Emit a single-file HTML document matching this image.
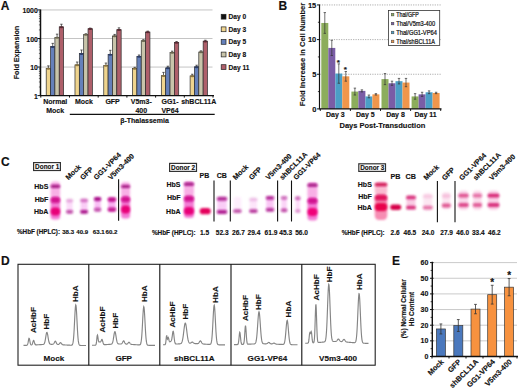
<!DOCTYPE html>
<html><head><meta charset="utf-8"><style>
html,body{margin:0;padding:0;background:#fff;}
svg{display:block;}
text{font-family:"Liberation Sans",sans-serif;}
</style></head><body>
<svg width="520" height="390" viewBox="0 0 520 390">
<defs>
<filter id="b1" x="-50%" y="-50%" width="200%" height="200%"><feGaussianBlur stdDeviation="0.9"/></filter><filter id="b2" x="-50%" y="-50%" width="200%" height="200%"><feGaussianBlur stdDeviation="1.3"/></filter>
</defs>
<rect width="520" height="390" fill="#fff"/>
<text x="0.80" y="9.60" font-size="12" font-weight="bold" text-anchor="start" fill="#111" stroke="#111" stroke-width="0.14" >A</text>
<line x1="40.50" y1="67.05" x2="212.50" y2="67.05" stroke="#bdbdbd" stroke-width="0.9" />
<line x1="40.50" y1="38.50" x2="212.50" y2="38.50" stroke="#bdbdbd" stroke-width="0.9" />
<line x1="40.50" y1="9.95" x2="212.50" y2="9.95" stroke="#bdbdbd" stroke-width="0.9" />
<line x1="38.90" y1="87.01" x2="40.50" y2="87.01" stroke="#222" stroke-width="0.6" />
<line x1="38.90" y1="81.98" x2="40.50" y2="81.98" stroke="#222" stroke-width="0.6" />
<line x1="38.90" y1="78.41" x2="40.50" y2="78.41" stroke="#222" stroke-width="0.6" />
<line x1="38.90" y1="75.64" x2="40.50" y2="75.64" stroke="#222" stroke-width="0.6" />
<line x1="38.90" y1="73.38" x2="40.50" y2="73.38" stroke="#222" stroke-width="0.6" />
<line x1="38.90" y1="71.47" x2="40.50" y2="71.47" stroke="#222" stroke-width="0.6" />
<line x1="38.90" y1="69.82" x2="40.50" y2="69.82" stroke="#222" stroke-width="0.6" />
<line x1="38.90" y1="68.36" x2="40.50" y2="68.36" stroke="#222" stroke-width="0.6" />
<line x1="38.90" y1="58.46" x2="40.50" y2="58.46" stroke="#222" stroke-width="0.6" />
<line x1="38.90" y1="53.43" x2="40.50" y2="53.43" stroke="#222" stroke-width="0.6" />
<line x1="38.90" y1="49.86" x2="40.50" y2="49.86" stroke="#222" stroke-width="0.6" />
<line x1="38.90" y1="47.09" x2="40.50" y2="47.09" stroke="#222" stroke-width="0.6" />
<line x1="38.90" y1="44.83" x2="40.50" y2="44.83" stroke="#222" stroke-width="0.6" />
<line x1="38.90" y1="42.92" x2="40.50" y2="42.92" stroke="#222" stroke-width="0.6" />
<line x1="38.90" y1="41.27" x2="40.50" y2="41.27" stroke="#222" stroke-width="0.6" />
<line x1="38.90" y1="39.81" x2="40.50" y2="39.81" stroke="#222" stroke-width="0.6" />
<line x1="38.90" y1="29.91" x2="40.50" y2="29.91" stroke="#222" stroke-width="0.6" />
<line x1="38.90" y1="24.88" x2="40.50" y2="24.88" stroke="#222" stroke-width="0.6" />
<line x1="38.90" y1="21.31" x2="40.50" y2="21.31" stroke="#222" stroke-width="0.6" />
<line x1="38.90" y1="18.54" x2="40.50" y2="18.54" stroke="#222" stroke-width="0.6" />
<line x1="38.90" y1="16.28" x2="40.50" y2="16.28" stroke="#222" stroke-width="0.6" />
<line x1="38.90" y1="14.37" x2="40.50" y2="14.37" stroke="#222" stroke-width="0.6" />
<line x1="38.90" y1="12.72" x2="40.50" y2="12.72" stroke="#222" stroke-width="0.6" />
<line x1="38.90" y1="11.26" x2="40.50" y2="11.26" stroke="#222" stroke-width="0.6" />
<line x1="37.50" y1="95.60" x2="40.50" y2="95.60" stroke="#111" stroke-width="1" />
<text x="37.80" y="98.60" font-size="6.9" font-weight="bold" text-anchor="end" fill="#111" stroke="#111" stroke-width="0.14" >1</text>
<line x1="37.50" y1="67.05" x2="40.50" y2="67.05" stroke="#111" stroke-width="1" />
<text x="37.80" y="70.05" font-size="6.9" font-weight="bold" text-anchor="end" fill="#111" stroke="#111" stroke-width="0.14" >10</text>
<line x1="37.50" y1="38.50" x2="40.50" y2="38.50" stroke="#111" stroke-width="1" />
<text x="37.80" y="41.50" font-size="6.9" font-weight="bold" text-anchor="end" fill="#111" stroke="#111" stroke-width="0.14" >100</text>
<line x1="37.50" y1="9.95" x2="40.50" y2="9.95" stroke="#111" stroke-width="1" />
<text x="37.80" y="12.95" font-size="6.9" font-weight="bold" text-anchor="end" fill="#111" stroke="#111" stroke-width="0.14" >1000</text>
<text x="19.50" y="52.60" font-size="7.2" font-weight="bold" text-anchor="middle" fill="#111" stroke="#111" stroke-width="0.14" transform="rotate(-90 19.5 52.6)" >Fold Expansion</text>
<line x1="48.38" y1="65.87" x2="48.38" y2="68.46" stroke="#222" stroke-width="0.7" />
<line x1="47.17" y1="65.87" x2="49.58" y2="65.87" stroke="#222" stroke-width="0.7" />
<rect x="46.20" y="68.46" width="4.35" height="27.14" fill="#efd48e" stroke="#2a2a2a" stroke-width="0.7" />
<ellipse cx="48.38" cy="68.76" rx="2.17" ry="1.0" fill="#8a7440"/>
<line x1="52.73" y1="43.36" x2="52.73" y2="46.65" stroke="#222" stroke-width="0.7" />
<line x1="51.52" y1="43.36" x2="53.93" y2="43.36" stroke="#222" stroke-width="0.7" />
<rect x="50.55" y="46.65" width="4.35" height="48.95" fill="#6580ba" stroke="#2a2a2a" stroke-width="0.7" />
<ellipse cx="52.73" cy="46.95" rx="2.17" ry="1.0" fill="#2c3c66"/>
<line x1="57.08" y1="34.15" x2="57.08" y2="37.38" stroke="#222" stroke-width="0.7" />
<line x1="55.88" y1="34.15" x2="58.28" y2="34.15" stroke="#222" stroke-width="0.7" />
<rect x="54.90" y="37.38" width="4.35" height="58.22" fill="#c8c4aa" stroke="#2a2a2a" stroke-width="0.7" />
<ellipse cx="57.08" cy="37.68" rx="2.17" ry="1.0" fill="#6a6650"/>
<line x1="61.42" y1="24.23" x2="61.42" y2="26.83" stroke="#222" stroke-width="0.7" />
<line x1="60.22" y1="24.23" x2="62.62" y2="24.23" stroke="#222" stroke-width="0.7" />
<rect x="59.25" y="26.83" width="4.35" height="68.77" fill="#ae5f6a" stroke="#2a2a2a" stroke-width="0.7" />
<ellipse cx="61.42" cy="27.13" rx="2.17" ry="1.0" fill="#5a2a34"/>
<line x1="77.16" y1="62.02" x2="77.16" y2="64.89" stroke="#222" stroke-width="0.7" />
<line x1="75.95" y1="62.02" x2="78.36" y2="62.02" stroke="#222" stroke-width="0.7" />
<rect x="74.98" y="64.89" width="4.35" height="30.71" fill="#efd48e" stroke="#2a2a2a" stroke-width="0.7" />
<ellipse cx="77.16" cy="65.19" rx="2.17" ry="1.0" fill="#8a7440"/>
<line x1="81.50" y1="49.99" x2="81.50" y2="53.61" stroke="#222" stroke-width="0.7" />
<line x1="80.30" y1="49.99" x2="82.70" y2="49.99" stroke="#222" stroke-width="0.7" />
<rect x="79.33" y="53.61" width="4.35" height="41.99" fill="#6580ba" stroke="#2a2a2a" stroke-width="0.7" />
<ellipse cx="81.50" cy="53.91" rx="2.17" ry="1.0" fill="#2c3c66"/>
<line x1="85.86" y1="33.81" x2="85.86" y2="34.57" stroke="#222" stroke-width="0.7" />
<line x1="84.66" y1="33.81" x2="87.06" y2="33.81" stroke="#222" stroke-width="0.7" />
<rect x="83.68" y="34.57" width="4.35" height="61.03" fill="#c8c4aa" stroke="#2a2a2a" stroke-width="0.7" />
<ellipse cx="85.86" cy="34.87" rx="2.17" ry="1.0" fill="#6a6650"/>
<line x1="90.20" y1="28.07" x2="90.20" y2="28.73" stroke="#222" stroke-width="0.7" />
<line x1="89.00" y1="28.07" x2="91.41" y2="28.07" stroke="#222" stroke-width="0.7" />
<rect x="88.03" y="28.73" width="4.35" height="66.87" fill="#ae5f6a" stroke="#2a2a2a" stroke-width="0.7" />
<ellipse cx="90.20" cy="29.03" rx="2.17" ry="1.0" fill="#5a2a34"/>
<line x1="105.94" y1="63.06" x2="105.94" y2="65.40" stroke="#222" stroke-width="0.7" />
<line x1="104.73" y1="63.06" x2="107.14" y2="63.06" stroke="#222" stroke-width="0.7" />
<rect x="103.76" y="65.40" width="4.35" height="30.20" fill="#efd48e" stroke="#2a2a2a" stroke-width="0.7" />
<ellipse cx="105.94" cy="65.70" rx="2.17" ry="1.0" fill="#8a7440"/>
<line x1="110.28" y1="50.30" x2="110.28" y2="54.40" stroke="#222" stroke-width="0.7" />
<line x1="109.08" y1="50.30" x2="111.48" y2="50.30" stroke="#222" stroke-width="0.7" />
<rect x="108.11" y="54.40" width="4.35" height="41.20" fill="#6580ba" stroke="#2a2a2a" stroke-width="0.7" />
<ellipse cx="110.28" cy="54.70" rx="2.17" ry="1.0" fill="#2c3c66"/>
<line x1="114.64" y1="34.42" x2="114.64" y2="36.04" stroke="#222" stroke-width="0.7" />
<line x1="113.44" y1="34.42" x2="115.84" y2="34.42" stroke="#222" stroke-width="0.7" />
<rect x="112.46" y="36.04" width="4.35" height="59.56" fill="#c8c4aa" stroke="#2a2a2a" stroke-width="0.7" />
<ellipse cx="114.64" cy="36.34" rx="2.17" ry="1.0" fill="#6a6650"/>
<line x1="118.98" y1="27.85" x2="118.98" y2="29.69" stroke="#222" stroke-width="0.7" />
<line x1="117.78" y1="27.85" x2="120.19" y2="27.85" stroke="#222" stroke-width="0.7" />
<rect x="116.81" y="29.69" width="4.35" height="65.91" fill="#ae5f6a" stroke="#2a2a2a" stroke-width="0.7" />
<ellipse cx="118.98" cy="29.99" rx="2.17" ry="1.0" fill="#5a2a34"/>
<line x1="134.72" y1="67.30" x2="134.72" y2="68.46" stroke="#222" stroke-width="0.7" />
<line x1="133.52" y1="67.30" x2="135.92" y2="67.30" stroke="#222" stroke-width="0.7" />
<rect x="132.54" y="68.46" width="4.35" height="27.14" fill="#efd48e" stroke="#2a2a2a" stroke-width="0.7" />
<ellipse cx="134.72" cy="68.76" rx="2.17" ry="1.0" fill="#8a7440"/>
<line x1="139.07" y1="55.01" x2="139.07" y2="56.50" stroke="#222" stroke-width="0.7" />
<line x1="137.87" y1="55.01" x2="140.27" y2="55.01" stroke="#222" stroke-width="0.7" />
<rect x="136.89" y="56.50" width="4.35" height="39.10" fill="#6580ba" stroke="#2a2a2a" stroke-width="0.7" />
<ellipse cx="139.07" cy="56.80" rx="2.17" ry="1.0" fill="#2c3c66"/>
<line x1="143.42" y1="39.67" x2="143.42" y2="40.73" stroke="#222" stroke-width="0.7" />
<line x1="142.22" y1="39.67" x2="144.62" y2="39.67" stroke="#222" stroke-width="0.7" />
<rect x="141.24" y="40.73" width="4.35" height="54.87" fill="#c8c4aa" stroke="#2a2a2a" stroke-width="0.7" />
<ellipse cx="143.42" cy="41.03" rx="2.17" ry="1.0" fill="#6a6650"/>
<line x1="147.77" y1="31.14" x2="147.77" y2="32.07" stroke="#222" stroke-width="0.7" />
<line x1="146.57" y1="31.14" x2="148.97" y2="31.14" stroke="#222" stroke-width="0.7" />
<rect x="145.59" y="32.07" width="4.35" height="63.53" fill="#ae5f6a" stroke="#2a2a2a" stroke-width="0.7" />
<ellipse cx="147.77" cy="32.37" rx="2.17" ry="1.0" fill="#5a2a34"/>
<line x1="163.50" y1="72.39" x2="163.50" y2="75.66" stroke="#222" stroke-width="0.7" />
<line x1="162.30" y1="72.39" x2="164.69" y2="72.39" stroke="#222" stroke-width="0.7" />
<rect x="161.32" y="75.66" width="4.35" height="19.94" fill="#efd48e" stroke="#2a2a2a" stroke-width="0.7" />
<ellipse cx="163.50" cy="75.96" rx="2.17" ry="1.0" fill="#8a7440"/>
<line x1="167.84" y1="66.21" x2="167.84" y2="67.93" stroke="#222" stroke-width="0.7" />
<line x1="166.65" y1="66.21" x2="169.04" y2="66.21" stroke="#222" stroke-width="0.7" />
<rect x="165.67" y="67.93" width="4.35" height="27.67" fill="#6580ba" stroke="#2a2a2a" stroke-width="0.7" />
<ellipse cx="167.84" cy="68.23" rx="2.17" ry="1.0" fill="#2c3c66"/>
<line x1="172.19" y1="51.17" x2="172.19" y2="52.38" stroke="#222" stroke-width="0.7" />
<line x1="171.00" y1="51.17" x2="173.39" y2="51.17" stroke="#222" stroke-width="0.7" />
<rect x="170.02" y="52.38" width="4.35" height="43.22" fill="#c8c4aa" stroke="#2a2a2a" stroke-width="0.7" />
<ellipse cx="172.19" cy="52.68" rx="2.17" ry="1.0" fill="#6a6650"/>
<line x1="176.55" y1="41.58" x2="176.55" y2="42.57" stroke="#222" stroke-width="0.7" />
<line x1="175.35" y1="41.58" x2="177.75" y2="41.58" stroke="#222" stroke-width="0.7" />
<rect x="174.37" y="42.57" width="4.35" height="53.03" fill="#ae5f6a" stroke="#2a2a2a" stroke-width="0.7" />
<ellipse cx="176.55" cy="42.87" rx="2.17" ry="1.0" fill="#5a2a34"/>
<line x1="192.28" y1="74.24" x2="192.28" y2="75.91" stroke="#222" stroke-width="0.7" />
<line x1="191.08" y1="74.24" x2="193.48" y2="74.24" stroke="#222" stroke-width="0.7" />
<rect x="190.10" y="75.91" width="4.35" height="19.69" fill="#efd48e" stroke="#2a2a2a" stroke-width="0.7" />
<ellipse cx="192.28" cy="76.21" rx="2.17" ry="1.0" fill="#8a7440"/>
<line x1="196.63" y1="65.21" x2="196.63" y2="66.83" stroke="#222" stroke-width="0.7" />
<line x1="195.43" y1="65.21" x2="197.83" y2="65.21" stroke="#222" stroke-width="0.7" />
<rect x="194.45" y="66.83" width="4.35" height="28.77" fill="#6580ba" stroke="#2a2a2a" stroke-width="0.7" />
<ellipse cx="196.63" cy="67.13" rx="2.17" ry="1.0" fill="#2c3c66"/>
<line x1="200.98" y1="50.83" x2="200.98" y2="52.02" stroke="#222" stroke-width="0.7" />
<line x1="199.78" y1="50.83" x2="202.18" y2="50.83" stroke="#222" stroke-width="0.7" />
<rect x="198.80" y="52.02" width="4.35" height="43.58" fill="#c8c4aa" stroke="#2a2a2a" stroke-width="0.7" />
<ellipse cx="200.98" cy="52.32" rx="2.17" ry="1.0" fill="#6a6650"/>
<line x1="205.33" y1="40.23" x2="205.33" y2="41.17" stroke="#222" stroke-width="0.7" />
<line x1="204.13" y1="40.23" x2="206.53" y2="40.23" stroke="#222" stroke-width="0.7" />
<rect x="203.15" y="41.17" width="4.35" height="54.43" fill="#ae5f6a" stroke="#2a2a2a" stroke-width="0.7" />
<ellipse cx="205.33" cy="41.47" rx="2.17" ry="1.0" fill="#5a2a34"/>
<line x1="40.50" y1="9.50" x2="40.50" y2="95.60" stroke="#111" stroke-width="1.5" />
<line x1="39.90" y1="95.60" x2="214.00" y2="95.60" stroke="#111" stroke-width="1.3" />
<line x1="40.80" y1="95.60" x2="40.80" y2="97.60" stroke="#111" stroke-width="1" />
<line x1="69.50" y1="95.60" x2="69.50" y2="97.60" stroke="#111" stroke-width="1" />
<line x1="98.20" y1="95.60" x2="98.20" y2="97.60" stroke="#111" stroke-width="1" />
<line x1="126.90" y1="95.60" x2="126.90" y2="97.60" stroke="#111" stroke-width="1" />
<line x1="155.60" y1="95.60" x2="155.60" y2="97.60" stroke="#111" stroke-width="1" />
<line x1="184.30" y1="95.60" x2="184.30" y2="97.60" stroke="#111" stroke-width="1" />
<line x1="213.00" y1="95.60" x2="213.00" y2="97.60" stroke="#111" stroke-width="1" />
<text x="55.20" y="104.00" font-size="7" font-weight="bold" text-anchor="middle" fill="#111" stroke="#111" stroke-width="0.14" >Normal</text>
<text x="55.20" y="112.80" font-size="7" font-weight="bold" text-anchor="middle" fill="#111" stroke="#111" stroke-width="0.14" >Mock</text>
<text x="83.90" y="104.00" font-size="7" font-weight="bold" text-anchor="middle" fill="#111" stroke="#111" stroke-width="0.14" >Mock</text>
<text x="112.60" y="104.00" font-size="7" font-weight="bold" text-anchor="middle" fill="#111" stroke="#111" stroke-width="0.14" >GFP</text>
<text x="141.30" y="104.00" font-size="7" font-weight="bold" text-anchor="middle" fill="#111" stroke="#111" stroke-width="0.14" >V5m3-</text>
<text x="141.30" y="112.80" font-size="7" font-weight="bold" text-anchor="middle" fill="#111" stroke="#111" stroke-width="0.14" >400</text>
<text x="170.00" y="104.00" font-size="7" font-weight="bold" text-anchor="middle" fill="#111" stroke="#111" stroke-width="0.14" >GG1-</text>
<text x="170.00" y="112.80" font-size="7" font-weight="bold" text-anchor="middle" fill="#111" stroke="#111" stroke-width="0.14" >VP64</text>
<text x="198.70" y="104.00" font-size="7" font-weight="bold" text-anchor="middle" fill="#111" stroke="#111" stroke-width="0.14" >shBCL11A</text>
<line x1="69.80" y1="114.40" x2="214.70" y2="114.40" stroke="#111" stroke-width="1.3" />
<text x="144.50" y="122.60" font-size="7" font-weight="bold" text-anchor="middle" fill="#111" stroke="#111" stroke-width="0.14" >β-Thalassemia</text>
<rect x="221.20" y="14.30" width="4.80" height="4.80" fill="#111" stroke="#222" stroke-width="0.7" />
<text x="228.60" y="19.20" font-size="6.6" font-weight="bold" text-anchor="start" fill="#111" stroke="#111" stroke-width="0.14" >Day 0</text>
<rect x="221.20" y="26.90" width="4.80" height="4.80" fill="#efd48e" stroke="#222" stroke-width="0.7" />
<text x="228.60" y="31.80" font-size="6.6" font-weight="bold" text-anchor="start" fill="#111" stroke="#111" stroke-width="0.14" >Day 3</text>
<rect x="221.20" y="39.50" width="4.80" height="4.80" fill="#6580ba" stroke="#222" stroke-width="0.7" />
<text x="228.60" y="44.40" font-size="6.6" font-weight="bold" text-anchor="start" fill="#111" stroke="#111" stroke-width="0.14" >Day 5</text>
<rect x="221.20" y="52.10" width="4.80" height="4.80" fill="#c8c4aa" stroke="#222" stroke-width="0.7" />
<text x="228.60" y="57.00" font-size="6.6" font-weight="bold" text-anchor="start" fill="#111" stroke="#111" stroke-width="0.14" >Day 8</text>
<rect x="221.20" y="64.70" width="4.80" height="4.80" fill="#ae5f6a" stroke="#222" stroke-width="0.7" />
<text x="228.60" y="69.60" font-size="6.6" font-weight="bold" text-anchor="start" fill="#111" stroke="#111" stroke-width="0.14" >Day 11</text>
<text x="278.60" y="9.60" font-size="12" font-weight="bold" text-anchor="start" fill="#111" stroke="#111" stroke-width="0.14" >B</text>
<line x1="319.50" y1="74.25" x2="441.00" y2="74.25" stroke="#999" stroke-width="0.8" stroke-dasharray="1.2 1.2"/>
<line x1="319.50" y1="39.60" x2="441.00" y2="39.60" stroke="#999" stroke-width="0.8" stroke-dasharray="1.2 1.2"/>
<line x1="319.50" y1="4.95" x2="441.00" y2="4.95" stroke="#999" stroke-width="0.8" stroke-dasharray="1.2 1.2"/>
<rect x="321.30" y="22.97" width="7.00" height="85.93" fill="#8cad5c" stroke="none" stroke-width="0" />
<line x1="324.80" y1="12.57" x2="324.80" y2="33.36" stroke="#333" stroke-width="0.7" />
<line x1="323.60" y1="12.57" x2="326.00" y2="12.57" stroke="#333" stroke-width="0.7" />
<line x1="323.60" y1="33.36" x2="326.00" y2="33.36" stroke="#333" stroke-width="0.7" />
<rect x="328.30" y="47.92" width="7.00" height="60.98" fill="#7a5da6" stroke="none" stroke-width="0" />
<line x1="331.80" y1="40.29" x2="331.80" y2="55.54" stroke="#333" stroke-width="0.7" />
<line x1="330.60" y1="40.29" x2="333.00" y2="40.29" stroke="#333" stroke-width="0.7" />
<line x1="330.60" y1="55.54" x2="333.00" y2="55.54" stroke="#333" stroke-width="0.7" />
<rect x="335.30" y="73.56" width="7.00" height="35.34" fill="#4b9fc6" stroke="none" stroke-width="0" />
<line x1="338.80" y1="63.86" x2="338.80" y2="83.26" stroke="#333" stroke-width="0.7" />
<line x1="337.60" y1="63.86" x2="340.00" y2="63.86" stroke="#333" stroke-width="0.7" />
<line x1="337.60" y1="83.26" x2="340.00" y2="83.26" stroke="#333" stroke-width="0.7" />
<rect x="342.30" y="76.33" width="7.00" height="32.57" fill="#f0964b" stroke="none" stroke-width="0" />
<line x1="345.80" y1="71.48" x2="345.80" y2="81.18" stroke="#333" stroke-width="0.7" />
<line x1="344.60" y1="71.48" x2="347.00" y2="71.48" stroke="#333" stroke-width="0.7" />
<line x1="344.60" y1="81.18" x2="347.00" y2="81.18" stroke="#333" stroke-width="0.7" />
<rect x="351.40" y="91.58" width="7.00" height="17.33" fill="#8cad5c" stroke="none" stroke-width="0" />
<line x1="354.90" y1="88.11" x2="354.90" y2="95.04" stroke="#333" stroke-width="0.7" />
<line x1="353.70" y1="88.11" x2="356.10" y2="88.11" stroke="#333" stroke-width="0.7" />
<line x1="353.70" y1="95.04" x2="356.10" y2="95.04" stroke="#333" stroke-width="0.7" />
<rect x="358.40" y="90.88" width="7.00" height="18.02" fill="#7a5da6" stroke="none" stroke-width="0" />
<line x1="361.90" y1="89.84" x2="361.90" y2="91.92" stroke="#333" stroke-width="0.7" />
<line x1="360.70" y1="89.84" x2="363.10" y2="89.84" stroke="#333" stroke-width="0.7" />
<line x1="360.70" y1="91.92" x2="363.10" y2="91.92" stroke="#333" stroke-width="0.7" />
<rect x="365.40" y="96.43" width="7.00" height="12.47" fill="#4b9fc6" stroke="none" stroke-width="0" />
<line x1="368.90" y1="95.04" x2="368.90" y2="97.81" stroke="#333" stroke-width="0.7" />
<line x1="367.70" y1="95.04" x2="370.10" y2="95.04" stroke="#333" stroke-width="0.7" />
<line x1="367.70" y1="97.81" x2="370.10" y2="97.81" stroke="#333" stroke-width="0.7" />
<rect x="372.40" y="94.35" width="7.00" height="14.55" fill="#f0964b" stroke="none" stroke-width="0" />
<line x1="375.90" y1="93.65" x2="375.90" y2="95.04" stroke="#333" stroke-width="0.7" />
<line x1="374.70" y1="93.65" x2="377.10" y2="93.65" stroke="#333" stroke-width="0.7" />
<line x1="374.70" y1="95.04" x2="377.10" y2="95.04" stroke="#333" stroke-width="0.7" />
<rect x="381.50" y="79.10" width="7.00" height="29.80" fill="#8cad5c" stroke="none" stroke-width="0" />
<line x1="385.00" y1="73.56" x2="385.00" y2="84.65" stroke="#333" stroke-width="0.7" />
<line x1="383.80" y1="73.56" x2="386.20" y2="73.56" stroke="#333" stroke-width="0.7" />
<line x1="383.80" y1="84.65" x2="386.20" y2="84.65" stroke="#333" stroke-width="0.7" />
<rect x="388.50" y="83.26" width="7.00" height="25.64" fill="#7a5da6" stroke="none" stroke-width="0" />
<line x1="392.00" y1="81.18" x2="392.00" y2="85.34" stroke="#333" stroke-width="0.7" />
<line x1="390.80" y1="81.18" x2="393.20" y2="81.18" stroke="#333" stroke-width="0.7" />
<line x1="390.80" y1="85.34" x2="393.20" y2="85.34" stroke="#333" stroke-width="0.7" />
<rect x="395.50" y="81.18" width="7.00" height="27.72" fill="#4b9fc6" stroke="none" stroke-width="0" />
<line x1="399.00" y1="78.41" x2="399.00" y2="83.95" stroke="#333" stroke-width="0.7" />
<line x1="397.80" y1="78.41" x2="400.20" y2="78.41" stroke="#333" stroke-width="0.7" />
<line x1="397.80" y1="83.95" x2="400.20" y2="83.95" stroke="#333" stroke-width="0.7" />
<rect x="402.50" y="82.57" width="7.00" height="26.33" fill="#f0964b" stroke="none" stroke-width="0" />
<line x1="406.00" y1="78.41" x2="406.00" y2="86.72" stroke="#333" stroke-width="0.7" />
<line x1="404.80" y1="78.41" x2="407.20" y2="78.41" stroke="#333" stroke-width="0.7" />
<line x1="404.80" y1="86.72" x2="407.20" y2="86.72" stroke="#333" stroke-width="0.7" />
<rect x="411.60" y="96.43" width="7.00" height="12.47" fill="#8cad5c" stroke="none" stroke-width="0" />
<line x1="415.10" y1="93.65" x2="415.10" y2="99.20" stroke="#333" stroke-width="0.7" />
<line x1="413.90" y1="93.65" x2="416.30" y2="93.65" stroke="#333" stroke-width="0.7" />
<line x1="413.90" y1="99.20" x2="416.30" y2="99.20" stroke="#333" stroke-width="0.7" />
<rect x="418.60" y="94.35" width="7.00" height="14.55" fill="#7a5da6" stroke="none" stroke-width="0" />
<line x1="422.10" y1="92.27" x2="422.10" y2="96.43" stroke="#333" stroke-width="0.7" />
<line x1="420.90" y1="92.27" x2="423.30" y2="92.27" stroke="#333" stroke-width="0.7" />
<line x1="420.90" y1="96.43" x2="423.30" y2="96.43" stroke="#333" stroke-width="0.7" />
<rect x="425.60" y="92.27" width="7.00" height="16.63" fill="#4b9fc6" stroke="none" stroke-width="0" />
<line x1="429.10" y1="90.88" x2="429.10" y2="93.65" stroke="#333" stroke-width="0.7" />
<line x1="427.90" y1="90.88" x2="430.30" y2="90.88" stroke="#333" stroke-width="0.7" />
<line x1="427.90" y1="93.65" x2="430.30" y2="93.65" stroke="#333" stroke-width="0.7" />
<rect x="432.60" y="92.96" width="7.00" height="15.94" fill="#f0964b" stroke="none" stroke-width="0" />
<line x1="436.10" y1="92.27" x2="436.10" y2="93.65" stroke="#333" stroke-width="0.7" />
<line x1="434.90" y1="92.27" x2="437.30" y2="92.27" stroke="#333" stroke-width="0.7" />
<line x1="434.90" y1="93.65" x2="437.30" y2="93.65" stroke="#333" stroke-width="0.7" />
<text x="338.20" y="64.90" font-size="8" font-weight="bold" text-anchor="middle" fill="#111" stroke="#111" stroke-width="0.14" >*</text>
<text x="345.40" y="72.30" font-size="8" font-weight="bold" text-anchor="middle" fill="#111" stroke="#111" stroke-width="0.14" >*</text>
<line x1="319.50" y1="4.50" x2="319.50" y2="108.90" stroke="#111" stroke-width="1.2" />
<line x1="318.90" y1="108.90" x2="441.50" y2="108.90" stroke="#111" stroke-width="1.3" />
<line x1="317.00" y1="108.90" x2="319.50" y2="108.90" stroke="#111" stroke-width="1" />
<text x="316.30" y="111.60" font-size="7.5" font-weight="bold" text-anchor="end" fill="#111" stroke="#111" stroke-width="0.14" >0</text>
<line x1="317.00" y1="74.25" x2="319.50" y2="74.25" stroke="#111" stroke-width="1" />
<text x="316.30" y="76.95" font-size="7.5" font-weight="bold" text-anchor="end" fill="#111" stroke="#111" stroke-width="0.14" >5</text>
<line x1="317.00" y1="39.60" x2="319.50" y2="39.60" stroke="#111" stroke-width="1" />
<text x="316.30" y="42.30" font-size="7.5" font-weight="bold" text-anchor="end" fill="#111" stroke="#111" stroke-width="0.14" >10</text>
<line x1="317.00" y1="4.95" x2="319.50" y2="4.95" stroke="#111" stroke-width="1" />
<text x="316.30" y="7.65" font-size="7.5" font-weight="bold" text-anchor="end" fill="#111" stroke="#111" stroke-width="0.14" >15</text>
<line x1="317.90" y1="91.58" x2="319.50" y2="91.58" stroke="#111" stroke-width="0.8" />
<line x1="317.90" y1="56.93" x2="319.50" y2="56.93" stroke="#111" stroke-width="0.8" />
<line x1="317.90" y1="22.28" x2="319.50" y2="22.28" stroke="#111" stroke-width="0.8" />
<line x1="320.30" y1="108.90" x2="320.30" y2="110.90" stroke="#111" stroke-width="1" />
<line x1="350.40" y1="108.90" x2="350.40" y2="110.90" stroke="#111" stroke-width="1" />
<line x1="380.50" y1="108.90" x2="380.50" y2="110.90" stroke="#111" stroke-width="1" />
<line x1="410.60" y1="108.90" x2="410.60" y2="110.90" stroke="#111" stroke-width="1" />
<line x1="440.70" y1="108.90" x2="440.70" y2="110.90" stroke="#111" stroke-width="1" />
<text x="335.30" y="117.30" font-size="7" font-weight="bold" text-anchor="middle" fill="#111" stroke="#111" stroke-width="0.14" >Day 3</text>
<text x="365.40" y="117.30" font-size="7" font-weight="bold" text-anchor="middle" fill="#111" stroke="#111" stroke-width="0.14" >Day 5</text>
<text x="395.50" y="117.30" font-size="7" font-weight="bold" text-anchor="middle" fill="#111" stroke="#111" stroke-width="0.14" >Day 8</text>
<text x="425.60" y="117.30" font-size="7" font-weight="bold" text-anchor="middle" fill="#111" stroke="#111" stroke-width="0.14" >Day 11</text>
<text x="382.40" y="127.70" font-size="7.5" font-weight="bold" text-anchor="middle" fill="#111" stroke="#111" stroke-width="0.14" >Days Post-Transduction</text>
<text x="305.00" y="54.50" font-size="7.5" font-weight="bold" text-anchor="middle" fill="#111" stroke="#111" stroke-width="0.14" transform="rotate(-90 305.0 54.5)" >Fold Increase in Cell Number</text>
<rect x="388.50" y="10.50" width="51.20" height="34.90" fill="#fff" stroke="#333" stroke-width="0.8" />
<rect x="391.30" y="13.30" width="2.60" height="2.60" fill="#8cad5c" stroke="#444" stroke-width="0.5" />
<text x="396.30" y="16.90" font-size="6.5" font-weight="normal" text-anchor="start" fill="#111" stroke="#111" stroke-width="0.084" textLength="22.5" lengthAdjust="spacingAndGlyphs" stroke-opacity="1" style="stroke-width:0.22px">Thal/GFP</text>
<rect x="391.30" y="22.25" width="2.60" height="2.60" fill="#7a5da6" stroke="#444" stroke-width="0.5" />
<text x="396.30" y="25.85" font-size="6.5" font-weight="normal" text-anchor="start" fill="#111" stroke="#111" stroke-width="0.084" textLength="38.8" lengthAdjust="spacingAndGlyphs" stroke-opacity="1" style="stroke-width:0.22px">Thal/V5m3-400</text>
<rect x="391.30" y="31.20" width="2.60" height="2.60" fill="#4b9fc6" stroke="#444" stroke-width="0.5" />
<text x="396.30" y="34.80" font-size="6.5" font-weight="normal" text-anchor="start" fill="#111" stroke="#111" stroke-width="0.084" textLength="40.5" lengthAdjust="spacingAndGlyphs" stroke-opacity="1" style="stroke-width:0.22px">Thal/GG1-VP64</text>
<rect x="391.30" y="40.15" width="2.60" height="2.60" fill="#f0964b" stroke="#444" stroke-width="0.5" />
<text x="396.30" y="43.75" font-size="6.5" font-weight="normal" text-anchor="start" fill="#111" stroke="#111" stroke-width="0.084" textLength="38.8" lengthAdjust="spacingAndGlyphs" stroke-opacity="1" style="stroke-width:0.22px">Thal/shBCL11A</text>
<text x="0.90" y="166.20" font-size="12" font-weight="bold" text-anchor="start" fill="#111" stroke="#111" stroke-width="0.14" >C</text>
<rect x="33.60" y="162.60" width="26.80" height="7.90" fill="#fff" stroke="#333" stroke-width="1.2" />
<text x="47.20" y="169.00" font-size="6.4" font-weight="bold" text-anchor="middle" fill="#111" stroke="#111" stroke-width="0.14" >Donor 1</text>
<text x="48.30" y="188.80" font-size="7" font-weight="bold" text-anchor="end" fill="#111" stroke="#111" stroke-width="0.14" >HbS</text>
<text x="48.30" y="202.30" font-size="7" font-weight="bold" text-anchor="end" fill="#111" stroke="#111" stroke-width="0.14" >HbF</text>
<text x="48.30" y="214.30" font-size="7" font-weight="bold" text-anchor="end" fill="#111" stroke="#111" stroke-width="0.14" >HbA</text>
<rect x="50.65" y="181.50" width="9.50" height="16.50" rx="3.17" fill="#ee48c4" fill-opacity="0.43" filter="url(#b2)"/>
<rect x="50.65" y="197.00" width="9.50" height="22.50" rx="3.17" fill="#ee48c4" fill-opacity="0.72" filter="url(#b2)"/>
<rect x="50.65" y="184.70" width="9.50" height="3.20" rx="1.60" fill="#a0087e" fill-opacity="0.95" filter="url(#b1)"/>
<rect x="50.65" y="197.10" width="9.50" height="5.80" rx="2.90" fill="#d0088c" fill-opacity="0.95" filter="url(#b1)"/>
<rect x="50.65" y="207.60" width="9.50" height="7.80" rx="3.90" fill="#e80078" fill-opacity="1.00" filter="url(#b1)"/>
<rect x="66.50" y="199.60" width="6.20" height="13.20" rx="2.07" fill="#f26ee6" fill-opacity="0.25" filter="url(#b2)"/>
<rect x="66.00" y="198.70" width="7.20" height="3.80" rx="1.90" fill="#a80c88" fill-opacity="0.25" filter="url(#b1)"/>
<rect x="66.00" y="209.90" width="7.20" height="3.80" rx="1.90" fill="#a80c88" fill-opacity="0.70" filter="url(#b1)"/>
<rect x="80.60" y="199.30" width="7.00" height="13.50" rx="2.33" fill="#f26ee6" fill-opacity="0.35" filter="url(#b2)"/>
<rect x="80.10" y="198.40" width="8.00" height="3.80" rx="1.90" fill="#a80c88" fill-opacity="0.45" filter="url(#b1)"/>
<rect x="80.10" y="209.90" width="8.00" height="3.80" rx="1.90" fill="#a80c88" fill-opacity="0.95" filter="url(#b1)"/>
<rect x="94.40" y="198.10" width="6.40" height="12.60" rx="2.13" fill="#f26ee6" fill-opacity="0.45" filter="url(#b2)"/>
<rect x="93.90" y="197.10" width="7.40" height="4.00" rx="2.00" fill="#a80c88" fill-opacity="1.00" filter="url(#b1)"/>
<rect x="93.90" y="207.70" width="7.40" height="4.00" rx="2.00" fill="#a80c88" fill-opacity="0.65" filter="url(#b1)"/>
<rect x="108.10" y="198.50" width="7.60" height="12.20" rx="2.53" fill="#f26ee6" fill-opacity="0.55" filter="url(#b2)"/>
<rect x="107.60" y="197.35" width="8.60" height="4.30" rx="2.15" fill="#c0088c" fill-opacity="1.00" filter="url(#b1)"/>
<rect x="107.60" y="207.55" width="8.60" height="4.30" rx="2.15" fill="#c0088c" fill-opacity="0.95" filter="url(#b1)"/>
<line x1="118.60" y1="179.30" x2="118.60" y2="220.80" stroke="#111" stroke-width="1.1" />
<rect x="121.10" y="182.00" width="9.00" height="15.30" rx="3.00" fill="#ee48c4" fill-opacity="0.43" filter="url(#b2)"/>
<rect x="121.10" y="196.30" width="9.00" height="22.20" rx="3.00" fill="#ee48c4" fill-opacity="0.72" filter="url(#b2)"/>
<rect x="121.10" y="184.90" width="9.00" height="3.20" rx="1.60" fill="#a0087e" fill-opacity="0.95" filter="url(#b1)"/>
<rect x="121.10" y="196.40" width="9.00" height="5.80" rx="2.90" fill="#d0088c" fill-opacity="0.95" filter="url(#b1)"/>
<rect x="121.10" y="205.60" width="9.00" height="7.80" rx="3.90" fill="#e80078" fill-opacity="1.00" filter="url(#b1)"/>
<text x="68.60" y="180.30" font-size="7.2" font-weight="bold" text-anchor="start" fill="#111" stroke="#111" stroke-width="0.14" transform="rotate(-45 68.60 180.30)" >Mock</text>
<text x="83.10" y="180.30" font-size="7.2" font-weight="bold" text-anchor="start" fill="#111" stroke="#111" stroke-width="0.14" transform="rotate(-45 83.10 180.30)" >GFP</text>
<text x="96.60" y="180.30" font-size="7.2" font-weight="bold" text-anchor="start" fill="#111" stroke="#111" stroke-width="0.14" transform="rotate(-45 96.60 180.30)" >GG1-VP64</text>
<text x="110.90" y="180.30" font-size="7.2" font-weight="bold" text-anchor="start" fill="#111" stroke="#111" stroke-width="0.14" transform="rotate(-45 110.90 180.30)" >V5m3-400</text>
<text x="17.00" y="234.00" font-size="6.3" font-weight="bold" text-anchor="start" fill="#111" stroke="#111" stroke-width="0.14" >%HbF (HPLC):</text>
<text x="68.10" y="234.20" font-size="6.1" font-weight="bold" text-anchor="middle" fill="#111" stroke="#111" stroke-width="0.14" >38.3</text>
<text x="82.20" y="234.20" font-size="6.1" font-weight="bold" text-anchor="middle" fill="#111" stroke="#111" stroke-width="0.14" >40.9</text>
<text x="98.80" y="234.20" font-size="6.1" font-weight="bold" text-anchor="middle" fill="#111" stroke="#111" stroke-width="0.14" >63.1</text>
<text x="111.50" y="234.20" font-size="6.1" font-weight="bold" text-anchor="middle" fill="#111" stroke="#111" stroke-width="0.14" >60.2</text>
<rect x="169.60" y="163.40" width="26.90" height="8.00" fill="#fff" stroke="#333" stroke-width="1.2" />
<text x="183.10" y="169.80" font-size="6.4" font-weight="bold" text-anchor="middle" fill="#111" stroke="#111" stroke-width="0.14" >Donor 2</text>
<text x="180.50" y="186.80" font-size="7" font-weight="bold" text-anchor="end" fill="#111" stroke="#111" stroke-width="0.14" >HbS</text>
<text x="180.50" y="200.30" font-size="7" font-weight="bold" text-anchor="end" fill="#111" stroke="#111" stroke-width="0.14" >HbF</text>
<text x="180.50" y="214.20" font-size="7" font-weight="bold" text-anchor="end" fill="#111" stroke="#111" stroke-width="0.14" >HbA</text>
<rect x="184.00" y="181.00" width="10.00" height="15.70" rx="3.33" fill="#ee48c4" fill-opacity="0.43" filter="url(#b2)"/>
<rect x="184.00" y="195.70" width="10.00" height="22.30" rx="3.33" fill="#ee48c4" fill-opacity="0.72" filter="url(#b2)"/>
<rect x="184.00" y="182.60" width="10.00" height="3.20" rx="1.60" fill="#a0087e" fill-opacity="0.95" filter="url(#b1)"/>
<rect x="184.00" y="195.80" width="10.00" height="5.80" rx="2.90" fill="#d0088c" fill-opacity="0.95" filter="url(#b1)"/>
<rect x="184.00" y="207.00" width="10.00" height="7.80" rx="3.90" fill="#e80078" fill-opacity="1.00" filter="url(#b1)"/>
<rect x="199.70" y="208.10" width="11.00" height="6.20" rx="3.10" fill="#e4005c" fill-opacity="1.00" filter="url(#b1)"/>
<text x="204.40" y="178.00" font-size="7" font-weight="bold" text-anchor="middle" fill="#111" stroke="#111" stroke-width="0.14" >PB</text>
<text x="221.80" y="178.00" font-size="7" font-weight="bold" text-anchor="middle" fill="#111" stroke="#111" stroke-width="0.14" >CB</text>
<line x1="214.00" y1="180.50" x2="214.00" y2="221.50" stroke="#111" stroke-width="1.1" />
<rect x="217.25" y="197.70" width="9.50" height="15.30" rx="3.17" fill="#f26ee6" fill-opacity="0.35" filter="url(#b2)"/>
<rect x="216.75" y="196.70" width="10.50" height="4.00" rx="2.00" fill="#a80c88" fill-opacity="0.85" filter="url(#b1)"/>
<rect x="216.75" y="210.00" width="10.50" height="4.00" rx="2.00" fill="#a80c88" fill-opacity="0.90" filter="url(#b1)"/>
<line x1="230.30" y1="180.50" x2="230.30" y2="221.50" stroke="#111" stroke-width="1.1" />
<rect x="233.65" y="197.00" width="7.50" height="15.10" rx="2.50" fill="#f26ee6" fill-opacity="0.12" filter="url(#b2)"/>
<rect x="233.15" y="209.20" width="8.50" height="3.80" rx="1.90" fill="#a80c88" fill-opacity="0.70" filter="url(#b1)"/>
<rect x="249.65" y="198.40" width="7.50" height="13.70" rx="2.50" fill="#f26ee6" fill-opacity="0.18" filter="url(#b2)"/>
<rect x="249.15" y="197.50" width="8.50" height="3.80" rx="1.90" fill="#a80c88" fill-opacity="0.18" filter="url(#b1)"/>
<rect x="249.15" y="209.20" width="8.50" height="3.80" rx="1.90" fill="#a80c88" fill-opacity="0.80" filter="url(#b1)"/>
<rect x="266.25" y="196.80" width="7.50" height="14.00" rx="2.50" fill="#f26ee6" fill-opacity="0.40" filter="url(#b2)"/>
<rect x="265.75" y="195.90" width="8.50" height="3.80" rx="1.90" fill="#a80c88" fill-opacity="0.85" filter="url(#b1)"/>
<rect x="265.75" y="207.90" width="8.50" height="3.80" rx="1.90" fill="#a80c88" fill-opacity="0.80" filter="url(#b1)"/>
<line x1="277.60" y1="180.50" x2="277.60" y2="221.50" stroke="#111" stroke-width="1.1" />
<rect x="281.35" y="196.80" width="5.50" height="14.50" rx="1.83" fill="#f26ee6" fill-opacity="0.30" filter="url(#b2)"/>
<rect x="280.85" y="195.90" width="6.50" height="3.80" rx="1.90" fill="#a80c88" fill-opacity="0.55" filter="url(#b1)"/>
<rect x="280.85" y="208.40" width="6.50" height="3.80" rx="1.90" fill="#a80c88" fill-opacity="0.70" filter="url(#b1)"/>
<line x1="291.50" y1="180.50" x2="291.50" y2="221.50" stroke="#111" stroke-width="1.1" />
<rect x="295.55" y="197.20" width="4.50" height="14.90" rx="1.50" fill="#f26ee6" fill-opacity="0.25" filter="url(#b2)"/>
<rect x="295.05" y="196.30" width="5.50" height="3.80" rx="1.90" fill="#a80c88" fill-opacity="0.60" filter="url(#b1)"/>
<rect x="295.05" y="209.20" width="5.50" height="3.80" rx="1.90" fill="#a80c88" fill-opacity="0.35" filter="url(#b1)"/>
<rect x="307.50" y="182.00" width="10.00" height="16.80" rx="3.33" fill="#ee48c4" fill-opacity="0.43" filter="url(#b2)"/>
<rect x="307.50" y="197.80" width="10.00" height="22.70" rx="3.33" fill="#ee48c4" fill-opacity="0.72" filter="url(#b2)"/>
<rect x="307.50" y="183.60" width="10.00" height="3.20" rx="1.60" fill="#a0087e" fill-opacity="0.95" filter="url(#b1)"/>
<rect x="307.50" y="197.90" width="10.00" height="5.80" rx="2.90" fill="#d0088c" fill-opacity="0.95" filter="url(#b1)"/>
<rect x="307.50" y="208.10" width="10.00" height="7.80" rx="3.90" fill="#f00078" fill-opacity="1.00" filter="url(#b1)"/>
<text x="235.80" y="180.30" font-size="7.2" font-weight="bold" text-anchor="start" fill="#111" stroke="#111" stroke-width="0.14" transform="rotate(-45 235.80 180.30)" >Mock</text>
<text x="251.80" y="180.30" font-size="7.2" font-weight="bold" text-anchor="start" fill="#111" stroke="#111" stroke-width="0.14" transform="rotate(-45 251.80 180.30)" >GFP</text>
<text x="268.40" y="180.30" font-size="7.2" font-weight="bold" text-anchor="start" fill="#111" stroke="#111" stroke-width="0.14" transform="rotate(-45 268.40 180.30)" >V5m3-400</text>
<text x="282.50" y="180.30" font-size="7.2" font-weight="bold" text-anchor="start" fill="#111" stroke="#111" stroke-width="0.14" transform="rotate(-45 282.50 180.30)" >shBCL11A</text>
<text x="296.20" y="180.30" font-size="7.2" font-weight="bold" text-anchor="start" fill="#111" stroke="#111" stroke-width="0.14" transform="rotate(-45 296.20 180.30)" >GG1-VP64</text>
<text x="151.90" y="234.60" font-size="6.4" font-weight="bold" text-anchor="start" fill="#111" stroke="#111" stroke-width="0.14" >%HbF (HPLC):</text>
<text x="204.50" y="234.60" font-size="6.6" font-weight="bold" text-anchor="middle" fill="#111" stroke="#111" stroke-width="0.14" >1.5</text>
<text x="222.20" y="234.60" font-size="6.6" font-weight="bold" text-anchor="middle" fill="#111" stroke="#111" stroke-width="0.14" >52.3</text>
<text x="238.40" y="234.60" font-size="6.6" font-weight="bold" text-anchor="middle" fill="#111" stroke="#111" stroke-width="0.14" >26.7</text>
<text x="253.90" y="234.60" font-size="6.6" font-weight="bold" text-anchor="middle" fill="#111" stroke="#111" stroke-width="0.14" >29.4</text>
<text x="271.00" y="234.60" font-size="6.6" font-weight="bold" text-anchor="middle" fill="#111" stroke="#111" stroke-width="0.14" >61.9</text>
<text x="285.70" y="234.60" font-size="6.6" font-weight="bold" text-anchor="middle" fill="#111" stroke="#111" stroke-width="0.14" >45.3</text>
<text x="301.60" y="234.60" font-size="6.6" font-weight="bold" text-anchor="middle" fill="#111" stroke="#111" stroke-width="0.14" >56.0</text>
<rect x="358.80" y="163.80" width="26.70" height="7.60" fill="#fff" stroke="#333" stroke-width="1.2" />
<text x="372.30" y="170.20" font-size="6.4" font-weight="bold" text-anchor="middle" fill="#111" stroke="#111" stroke-width="0.14" >Donor 3</text>
<text x="371.80" y="186.80" font-size="7" font-weight="bold" text-anchor="end" fill="#111" stroke="#111" stroke-width="0.14" >HbS</text>
<text x="371.80" y="199.00" font-size="7" font-weight="bold" text-anchor="end" fill="#111" stroke="#111" stroke-width="0.14" >HbF</text>
<text x="371.80" y="210.00" font-size="7" font-weight="bold" text-anchor="end" fill="#111" stroke="#111" stroke-width="0.14" >HbA</text>
<rect x="374.75" y="181.50" width="12.50" height="14.20" rx="4.17" fill="#f04080" fill-opacity="0.36" filter="url(#b2)"/>
<rect x="374.75" y="194.70" width="12.50" height="25.30" rx="4.17" fill="#f04080" fill-opacity="0.60" filter="url(#b2)"/>
<rect x="374.75" y="183.00" width="12.50" height="3.20" rx="1.60" fill="#d00a50" fill-opacity="0.95" filter="url(#b1)"/>
<rect x="374.75" y="194.80" width="12.50" height="5.80" rx="2.90" fill="#e00a58" fill-opacity="0.95" filter="url(#b1)"/>
<rect x="374.75" y="203.10" width="12.50" height="7.80" rx="3.90" fill="#e8004c" fill-opacity="1.00" filter="url(#b1)"/>
<rect x="390.20" y="204.55" width="11.00" height="5.50" rx="2.75" fill="#d6004a" fill-opacity="1.00" filter="url(#b1)"/>
<text x="395.40" y="179.40" font-size="7.2" font-weight="bold" text-anchor="middle" fill="#111" stroke="#111" stroke-width="0.14" >PB</text>
<text x="410.80" y="179.40" font-size="7.2" font-weight="bold" text-anchor="middle" fill="#111" stroke="#111" stroke-width="0.14" >CB</text>
<rect x="406.50" y="196.40" width="9.00" height="12.30" rx="3.00" fill="#f07cb8" fill-opacity="0.40" filter="url(#b2)"/>
<rect x="406.00" y="195.50" width="10.00" height="3.80" rx="1.90" fill="#d41a6c" fill-opacity="0.85" filter="url(#b1)"/>
<rect x="406.00" y="205.80" width="10.00" height="3.80" rx="1.90" fill="#d41a6c" fill-opacity="0.85" filter="url(#b1)"/>
<rect x="423.30" y="193.30" width="9.00" height="17.30" rx="3.00" fill="#f07cb8" fill-opacity="0.18" filter="url(#b2)"/>
<rect x="422.80" y="194.40" width="10.00" height="3.80" rx="1.90" fill="#d41a6c" fill-opacity="0.12" filter="url(#b1)"/>
<rect x="422.80" y="205.70" width="10.00" height="3.80" rx="1.90" fill="#d41a6c" fill-opacity="0.55" filter="url(#b1)"/>
<line x1="437.40" y1="181.00" x2="437.40" y2="222.30" stroke="#111" stroke-width="1.1" />
<rect x="442.30" y="192.00" width="8.00" height="17.50" rx="2.67" fill="#f07cb8" fill-opacity="0.20" filter="url(#b2)"/>
<rect x="441.80" y="194.10" width="9.00" height="3.80" rx="1.90" fill="#d41a6c" fill-opacity="0.15" filter="url(#b1)"/>
<rect x="441.80" y="203.60" width="9.00" height="3.80" rx="1.90" fill="#d41a6c" fill-opacity="0.70" filter="url(#b1)"/>
<line x1="455.00" y1="181.00" x2="455.00" y2="222.30" stroke="#111" stroke-width="1.1" />
<rect x="458.75" y="190.60" width="9.50" height="19.40" rx="3.17" fill="#f07cb8" fill-opacity="0.30" filter="url(#b2)"/>
<rect x="458.25" y="193.70" width="10.50" height="3.80" rx="1.90" fill="#d41a6c" fill-opacity="0.70" filter="url(#b1)"/>
<rect x="458.25" y="203.10" width="10.50" height="3.80" rx="1.90" fill="#d41a6c" fill-opacity="0.75" filter="url(#b1)"/>
<rect x="473.15" y="190.60" width="8.50" height="19.40" rx="2.83" fill="#f07cb8" fill-opacity="0.28" filter="url(#b2)"/>
<rect x="472.65" y="193.70" width="9.50" height="3.80" rx="1.90" fill="#d41a6c" fill-opacity="0.55" filter="url(#b1)"/>
<rect x="472.65" y="203.10" width="9.50" height="3.80" rx="1.90" fill="#d41a6c" fill-opacity="0.65" filter="url(#b1)"/>
<rect x="488.00" y="190.60" width="11.00" height="19.40" rx="3.67" fill="#f07cb8" fill-opacity="0.35" filter="url(#b2)"/>
<rect x="487.50" y="193.70" width="12.00" height="3.80" rx="1.90" fill="#d41a6c" fill-opacity="0.90" filter="url(#b1)"/>
<rect x="487.50" y="203.10" width="12.00" height="3.80" rx="1.90" fill="#d41a6c" fill-opacity="0.85" filter="url(#b1)"/>
<text x="426.50" y="180.60" font-size="7.2" font-weight="bold" text-anchor="start" fill="#111" stroke="#111" stroke-width="0.14" transform="rotate(-45 426.50 180.60)" >Mock</text>
<text x="444.80" y="180.80" font-size="7.2" font-weight="bold" text-anchor="start" fill="#111" stroke="#111" stroke-width="0.14" transform="rotate(-45 444.80 180.80)" >GFP</text>
<text x="462.00" y="180.80" font-size="7.2" font-weight="bold" text-anchor="start" fill="#111" stroke="#111" stroke-width="0.14" transform="rotate(-45 462.00 180.80)" >GG1-VP64</text>
<text x="475.90" y="180.80" font-size="7.2" font-weight="bold" text-anchor="start" fill="#111" stroke="#111" stroke-width="0.14" transform="rotate(-45 475.90 180.80)" >shBCL11A</text>
<text x="492.00" y="180.80" font-size="7.2" font-weight="bold" text-anchor="start" fill="#111" stroke="#111" stroke-width="0.14" transform="rotate(-45 492.00 180.80)" >V5m3-400</text>
<text x="341.70" y="234.50" font-size="6.3" font-weight="bold" text-anchor="start" fill="#111" stroke="#111" stroke-width="0.14" >%HbF (HPLC):</text>
<text x="395.10" y="235.00" font-size="6.5" font-weight="bold" text-anchor="middle" fill="#111" stroke="#111" stroke-width="0.14" >2.6</text>
<text x="409.90" y="235.00" font-size="6.5" font-weight="bold" text-anchor="middle" fill="#111" stroke="#111" stroke-width="0.14" >46.5</text>
<text x="428.00" y="235.00" font-size="6.5" font-weight="bold" text-anchor="middle" fill="#111" stroke="#111" stroke-width="0.14" >24.0</text>
<text x="446.60" y="235.00" font-size="6.5" font-weight="bold" text-anchor="middle" fill="#111" stroke="#111" stroke-width="0.14" >27.9</text>
<text x="462.70" y="235.00" font-size="6.5" font-weight="bold" text-anchor="middle" fill="#111" stroke="#111" stroke-width="0.14" >46.0</text>
<text x="478.30" y="235.00" font-size="6.5" font-weight="bold" text-anchor="middle" fill="#111" stroke="#111" stroke-width="0.14" >33.4</text>
<text x="494.40" y="235.00" font-size="6.5" font-weight="bold" text-anchor="middle" fill="#111" stroke="#111" stroke-width="0.14" >46.2</text>
<text x="0.90" y="265.00" font-size="12" font-weight="bold" text-anchor="start" fill="#111" stroke="#111" stroke-width="0.14" >D</text>
<rect x="18.00" y="264.30" width="357.20" height="100.90" fill="none" stroke="#222" stroke-width="1.1" />
<line x1="88.80" y1="264.30" x2="88.80" y2="365.20" stroke="#111" stroke-width="1.1" />
<line x1="159.80" y1="264.30" x2="159.80" y2="365.20" stroke="#111" stroke-width="1.1" />
<line x1="231.00" y1="264.30" x2="231.00" y2="365.20" stroke="#111" stroke-width="1.1" />
<line x1="301.80" y1="264.30" x2="301.80" y2="365.20" stroke="#111" stroke-width="1.1" />
<polyline points="23.50,345.40 23.75,345.39 24.00,345.39 24.25,345.38 24.50,345.37 24.75,345.37 25.00,345.36 25.25,345.36 25.50,345.35 25.75,345.34 26.00,345.34 26.25,345.33 26.50,345.31 26.75,345.26 27.00,345.17 27.25,344.97 27.50,344.57 27.75,343.90 28.00,342.89 28.25,341.58 28.50,340.18 28.75,338.97 29.00,338.30 29.25,338.37 29.50,339.15 29.75,340.40 30.00,341.79 30.25,343.03 30.50,343.95 30.75,344.54 31.00,344.86 31.25,345.00 31.50,345.00 31.75,344.89 32.00,344.63 32.25,344.19 32.50,343.52 32.75,342.65 33.00,341.72 33.25,340.92 33.50,340.47 33.75,340.51 34.00,341.02 34.25,341.83 34.50,342.74 34.75,343.55 35.00,344.14 35.25,344.53 35.50,344.74 35.75,344.83 36.00,344.86 36.25,344.87 36.50,344.86 36.75,344.85 37.00,344.83 37.25,344.82 37.50,344.80 37.75,344.79 38.00,344.77 38.25,344.76 38.50,344.74 38.75,344.73 39.00,344.71 39.25,344.70 39.50,344.68 39.75,344.67 40.00,344.65 40.25,344.64 40.50,344.62 40.75,344.61 41.00,344.59 41.25,344.58 41.50,344.57 41.75,344.55 42.00,344.54 42.25,344.52 42.50,344.50 42.75,344.48 43.00,344.45 43.25,344.40 43.50,344.31 43.75,344.17 44.00,343.94 44.25,343.59 44.50,343.06 44.75,342.32 45.00,341.33 45.25,340.10 45.50,338.66 45.75,337.09 46.00,335.53 46.25,334.13 46.50,333.05 46.75,332.44 47.00,332.38 47.25,332.87 47.50,333.85 47.75,335.19 48.00,336.72 48.25,338.29 48.50,339.75 48.75,341.02 49.00,342.04 49.25,342.81 49.50,343.37 49.75,343.74 50.00,343.98 50.25,344.13 50.50,344.21 50.75,344.26 51.00,344.28 51.25,344.30 51.50,344.30 51.75,344.31 52.00,344.31 52.25,344.31 52.50,344.30 52.75,344.27 53.00,344.21 53.25,344.10 53.50,343.92 53.75,343.63 54.00,343.24 54.25,342.75 54.50,342.23 54.75,341.74 55.00,341.37 55.25,341.21 55.50,341.30 55.75,341.61 56.00,342.08 56.25,342.62 56.50,343.15 56.75,343.60 57.00,343.95 57.25,344.19 57.50,344.34 57.75,344.43 58.00,344.46 58.25,344.45 58.50,344.39 58.75,344.28 59.00,344.09 59.25,343.85 59.50,343.54 59.75,343.22 60.00,342.94 60.25,342.74 60.50,342.68 60.75,342.77 61.00,343.00 61.25,343.31 61.50,343.66 61.75,343.99 62.00,344.27 62.25,344.49 62.50,344.63 62.75,344.73 63.00,344.79 63.25,344.83 63.50,344.85 63.75,344.87 64.00,344.89 64.25,344.91 64.50,344.92 64.75,344.94 65.00,344.95 65.25,344.96 65.50,344.98 65.75,344.99 66.00,345.01 66.25,345.02 66.50,345.03 66.75,345.05 67.00,345.06 67.25,345.07 67.50,345.09 67.75,345.10 68.00,345.11 68.25,345.12 68.50,345.13 68.75,345.15 69.00,345.16 69.25,345.17 69.50,345.18 69.75,345.19 70.00,345.20 70.25,345.21 70.50,345.22 70.75,345.23 71.00,345.23 71.25,345.22 71.50,345.19 71.75,345.13 72.00,345.01 72.25,344.78 72.50,344.37 72.75,343.70 73.00,342.65 73.25,341.08 73.50,338.87 73.75,335.92 74.00,332.19 74.25,327.76 74.50,322.83 74.75,317.74 75.00,312.93 75.25,308.91 75.50,306.12 75.75,304.92 76.00,305.44 76.25,307.64 76.50,311.23 76.75,315.80 77.00,320.84 77.25,325.89 77.50,330.57 77.75,334.60 78.00,337.88 78.25,340.39 78.50,342.21 78.75,343.46 79.00,344.28 79.25,344.79 79.50,345.09 79.75,345.26 80.00,345.36 80.25,345.41 80.50,345.43 80.75,345.45 81.00,345.45 81.25,345.46 81.50,345.46 81.75,345.46 82.00,345.47 82.25,345.47 82.50,345.47 82.75,345.47 83.00,345.47 83.25,345.47 83.50,345.48 83.75,345.48 84.00,345.48 84.25,345.48 84.50,345.48 84.75,345.48 85.00,345.48 85.25,345.48 85.50,345.48 85.75,345.49 86.00,345.49" fill="none" stroke="#858585" stroke-width="1.15"/>
<polyline points="92.00,345.30 92.25,345.29 92.50,345.28 92.75,345.27 93.00,345.27 93.25,345.26 93.50,345.25 93.75,345.24 94.00,345.23 94.25,345.22 94.50,345.21 94.75,345.20 95.00,345.19 95.25,345.16 95.50,345.10 95.75,344.93 96.00,344.49 96.25,343.55 96.50,341.92 96.75,339.62 97.00,337.16 97.25,335.37 97.50,334.97 97.75,336.03 98.00,337.93 98.25,339.82 98.50,341.15 98.75,341.80 99.00,341.99 99.25,341.97 99.50,341.93 99.75,341.94 100.00,341.99 100.25,342.02 100.50,341.95 100.75,341.70 101.00,341.24 101.25,340.63 101.50,340.01 101.75,339.58 102.00,339.50 102.25,339.85 102.50,340.57 102.75,341.50 103.00,342.45 103.25,343.27 103.50,343.88 103.75,344.27 104.00,344.50 104.25,344.61 104.50,344.65 104.75,344.66 105.00,344.65 105.25,344.64 105.50,344.62 105.75,344.61 106.00,344.59 106.25,344.57 106.50,344.56 106.75,344.54 107.00,344.53 107.25,344.51 107.50,344.49 107.75,344.48 108.00,344.46 108.25,344.45 108.50,344.43 108.75,344.41 109.00,344.40 109.25,344.38 109.50,344.37 109.75,344.35 110.00,344.34 110.25,344.32 110.50,344.30 110.75,344.28 111.00,344.24 111.25,344.18 111.50,344.09 111.75,343.95 112.00,343.71 112.25,343.33 112.50,342.78 112.75,342.01 113.00,340.98 113.25,339.70 113.50,338.20 113.75,336.56 114.00,334.93 114.25,333.47 114.50,332.35 114.75,331.71 115.00,331.64 115.25,332.15 115.50,333.17 115.75,334.56 116.00,336.15 116.25,337.78 116.50,339.30 116.75,340.61 117.00,341.67 117.25,342.48 117.50,343.05 117.75,343.44 118.00,343.68 118.25,343.83 118.50,343.92 118.75,343.96 119.00,343.98 119.25,343.99 119.50,344.00 119.75,344.00 120.00,344.00 120.25,344.00 120.50,343.99 120.75,343.98 121.00,343.95 121.25,343.90 121.50,343.80 121.75,343.62 122.00,343.36 122.25,342.98 122.50,342.51 122.75,341.98 123.00,341.47 123.25,341.07 123.50,340.87 123.75,340.90 124.00,341.16 124.25,341.60 124.50,342.13 124.75,342.67 125.00,343.14 125.25,343.51 125.50,343.77 125.75,343.93 126.00,344.03 126.25,344.08 126.50,344.09 126.75,344.07 127.00,344.00 127.25,343.89 127.50,343.70 127.75,343.45 128.00,343.15 128.25,342.83 128.50,342.54 128.75,342.34 129.00,342.28 129.25,342.37 129.50,342.59 129.75,342.91 130.00,343.26 130.25,343.59 130.50,343.87 130.75,344.08 131.00,344.23 131.25,344.33 131.50,344.39 131.75,344.43 132.00,344.45 132.25,344.47 132.50,344.49 132.75,344.51 133.00,344.53 133.25,344.54 133.50,344.56 133.75,344.57 134.00,344.59 134.25,344.61 134.50,344.62 134.75,344.64 135.00,344.66 135.25,344.67 135.50,344.69 135.75,344.70 136.00,344.72 136.25,344.74 136.50,344.75 136.75,344.77 137.00,344.78 137.25,344.80 137.50,344.81 137.75,344.83 138.00,344.84 138.25,344.86 138.50,344.87 138.75,344.88 139.00,344.89 139.25,344.89 139.50,344.87 139.75,344.82 140.00,344.70 140.25,344.49 140.50,344.11 140.75,343.48 141.00,342.48 141.25,341.00 141.50,338.90 141.75,336.10 142.00,332.56 142.25,328.36 142.50,323.68 142.75,318.84 143.00,314.28 143.25,310.46 143.50,307.82 143.75,306.68 144.00,307.19 144.25,309.28 144.50,312.70 144.75,317.04 145.00,321.84 145.25,326.65 145.50,331.10 145.75,334.94 146.00,338.06 146.25,340.45 146.50,342.19 146.75,343.38 147.00,344.17 147.25,344.66 147.50,344.95 147.75,345.12 148.00,345.21 148.25,345.26 148.50,345.29 148.75,345.31 149.00,345.32 149.25,345.33 149.50,345.34 149.75,345.34 150.00,345.35 150.25,345.35 150.50,345.36 150.75,345.37 151.00,345.37 151.25,345.38 151.50,345.38 151.75,345.39 152.00,345.39 152.25,345.39 152.50,345.40 152.75,345.40 153.00,345.41 153.25,345.41 153.50,345.41 153.75,345.42 154.00,345.42 154.25,345.42 154.50,345.43 154.75,345.43 155.00,345.43" fill="none" stroke="#858585" stroke-width="1.15"/>
<polyline points="163.00,344.77 163.25,344.76 163.50,344.75 163.75,344.74 164.00,344.73 164.25,344.71 164.50,344.70 164.75,344.67 165.00,344.61 165.25,344.42 165.50,343.85 165.75,342.56 166.00,340.38 166.25,337.78 166.50,335.95 166.75,335.86 167.00,337.22 167.25,338.72 167.50,339.22 167.75,338.64 168.00,337.75 168.25,337.37 168.50,337.86 168.75,338.99 169.00,340.23 169.25,341.16 169.50,341.65 169.75,341.79 170.00,341.74 170.25,341.62 170.50,341.48 170.75,341.33 171.00,341.14 171.25,340.82 171.50,340.26 171.75,339.34 172.00,337.96 172.25,336.18 172.50,334.21 172.75,332.43 173.00,331.32 173.25,331.20 173.50,332.16 173.75,333.99 174.00,336.27 174.25,338.54 174.50,340.47 174.75,341.89 175.00,342.83 175.25,343.39 175.50,343.70 175.75,343.86 176.00,343.93 176.25,343.97 176.50,343.99 176.75,343.99 177.00,343.99 177.25,343.99 177.50,343.98 177.75,343.97 178.00,343.95 178.25,343.94 178.50,343.93 178.75,343.91 179.00,343.89 179.25,343.88 179.50,343.86 179.75,343.83 180.00,343.80 180.25,343.75 180.50,343.69 180.75,343.59 181.00,343.44 181.25,343.23 181.50,342.92 181.75,342.49 182.00,341.90 182.25,341.12 182.50,340.11 182.75,338.86 183.00,337.35 183.25,335.61 183.50,333.67 183.75,331.62 184.00,329.55 184.25,327.58 184.50,325.83 184.75,324.43 185.00,323.50 185.25,323.10 185.50,323.26 185.75,323.97 186.00,325.17 186.25,326.78 186.50,328.66 186.75,330.69 187.00,332.75 187.25,334.72 187.50,336.53 187.75,338.12 188.00,339.46 188.25,340.55 188.50,341.40 188.75,342.05 189.00,342.52 189.25,342.84 189.50,343.06 189.75,343.17 190.00,343.22 190.25,343.19 190.50,343.10 190.75,342.95 191.00,342.76 191.25,342.54 191.50,342.33 191.75,342.15 192.00,342.04 192.25,342.02 192.50,342.09 192.75,342.24 193.00,342.44 193.25,342.68 193.50,342.90 193.75,343.10 194.00,343.26 194.25,343.38 194.50,343.47 194.75,343.53 195.00,343.56 195.25,343.59 195.50,343.60 195.75,343.62 196.00,343.63 196.25,343.64 196.50,343.65 196.75,343.66 197.00,343.67 197.25,343.67 197.50,343.66 197.75,343.62 198.00,343.56 198.25,343.44 198.50,343.26 198.75,343.00 199.00,342.65 199.25,342.25 199.50,341.81 199.75,341.39 200.00,341.07 200.25,340.89 200.50,340.88 200.75,341.06 201.00,341.39 201.25,341.82 201.50,342.29 201.75,342.74 202.00,343.13 202.25,343.44 202.50,343.66 202.75,343.82 203.00,343.92 203.25,343.99 203.50,344.03 203.75,344.06 204.00,344.09 204.25,344.10 204.50,344.12 204.75,344.14 205.00,344.16 205.25,344.17 205.50,344.19 205.75,344.20 206.00,344.22 206.25,344.24 206.50,344.25 206.75,344.27 207.00,344.28 207.25,344.30 207.50,344.31 207.75,344.33 208.00,344.34 208.25,344.36 208.50,344.37 208.75,344.39 209.00,344.40 209.25,344.41 209.50,344.41 209.75,344.40 210.00,344.37 210.25,344.30 210.50,344.15 210.75,343.87 211.00,343.38 211.25,342.60 211.50,341.40 211.75,339.64 212.00,337.21 212.25,334.03 212.50,330.11 212.75,325.56 213.00,320.65 213.25,315.75 213.50,311.31 213.75,307.83 214.00,305.70 214.25,305.20 214.50,306.39 214.75,309.12 215.00,313.07 215.25,317.77 215.50,322.75 215.75,327.57 216.00,331.91 216.25,335.56 216.50,338.46 216.75,340.63 217.00,342.17 217.25,343.21 217.50,343.88 217.75,344.29 218.00,344.53 218.25,344.67 218.50,344.75 218.75,344.79 219.00,344.81 219.25,344.83 219.50,344.83 219.75,344.84 220.00,344.85 220.25,344.85 220.50,344.86 220.75,344.87 221.00,344.87 221.25,344.88 221.50,344.88 221.75,344.89 222.00,344.89 222.25,344.89 222.50,344.90 222.75,344.90 223.00,344.91 223.25,344.91 223.50,344.91 223.75,344.92 224.00,344.92 224.25,344.92 224.50,344.93 224.75,344.93 225.00,344.93" fill="none" stroke="#858585" stroke-width="1.15"/>
<polyline points="234.00,344.66 234.25,344.66 234.50,344.65 234.75,344.65 235.00,344.64 235.25,344.64 235.50,344.63 235.75,344.63 236.00,344.62 236.25,344.62 236.50,344.61 236.75,344.60 237.00,344.59 237.25,344.57 237.50,344.53 237.75,344.41 238.00,344.12 238.25,343.51 238.50,342.38 238.75,340.59 239.00,338.19 239.25,335.57 239.50,333.40 239.75,332.35 240.00,332.80 240.25,334.58 240.50,337.09 240.75,339.63 241.00,341.67 241.25,343.04 241.50,343.82 241.75,344.20 242.00,344.35 242.25,344.40 242.50,344.41 242.75,344.40 243.00,344.37 243.25,344.29 243.50,344.07 243.75,343.56 244.00,342.49 244.25,340.58 244.50,337.64 244.75,333.85 245.00,329.91 245.25,326.86 245.50,325.70 245.75,326.84 246.00,329.87 246.25,333.79 246.50,337.55 246.75,340.47 247.00,342.36 247.25,343.41 247.50,343.90 247.75,344.10 248.00,344.16 248.25,344.17 248.50,344.17 248.75,344.16 249.00,344.15 249.25,344.14 249.50,344.13 249.75,344.12 250.00,344.11 250.25,344.10 250.50,344.09 250.75,344.08 251.00,344.07 251.25,344.06 251.50,344.05 251.75,344.04 252.00,344.03 252.25,344.02 252.50,344.01 252.75,344.00 253.00,343.99 253.25,343.98 253.50,343.96 253.75,343.95 254.00,343.93 254.25,343.90 254.50,343.85 254.75,343.77 255.00,343.64 255.25,343.41 255.50,343.05 255.75,342.49 256.00,341.66 256.25,340.47 256.50,338.84 256.75,336.71 257.00,334.06 257.25,330.92 257.50,327.40 257.75,323.69 258.00,320.04 258.25,316.74 258.50,314.11 258.75,312.41 259.00,311.82 259.25,312.41 259.50,314.10 259.75,316.72 260.00,320.01 260.25,323.65 260.50,327.36 260.75,330.87 261.00,334.00 261.25,336.65 261.50,338.76 261.75,340.38 262.00,341.57 262.25,342.39 262.50,342.95 262.75,343.30 263.00,343.52 263.25,343.65 263.50,343.73 263.75,343.77 264.00,343.79 264.25,343.80 264.50,343.81 264.75,343.82 265.00,343.82 265.25,343.82 265.50,343.82 265.75,343.82 266.00,343.81 266.25,343.79 266.50,343.74 266.75,343.67 267.00,343.56 267.25,343.42 267.50,343.23 267.75,343.02 268.00,342.80 268.25,342.61 268.50,342.47 268.75,342.41 269.00,342.45 269.25,342.57 269.50,342.76 269.75,342.99 270.00,343.22 270.25,343.43 270.50,343.61 270.75,343.75 271.00,343.84 271.25,343.90 271.50,343.92 271.75,343.92 272.00,343.88 272.25,343.81 272.50,343.72 272.75,343.60 273.00,343.46 273.25,343.32 273.50,343.20 273.75,343.13 274.00,343.11 274.25,343.15 274.50,343.25 274.75,343.38 275.00,343.54 275.25,343.70 275.50,343.85 275.75,343.97 276.00,344.06 276.25,344.12 276.50,344.17 276.75,344.20 277.00,344.23 277.25,344.24 277.50,344.26 277.75,344.27 278.00,344.28 278.25,344.29 278.50,344.30 278.75,344.31 279.00,344.32 279.25,344.33 279.50,344.34 279.75,344.35 280.00,344.36 280.25,344.37 280.50,344.38 280.75,344.39 281.00,344.40 281.25,344.41 281.50,344.42 281.75,344.43 282.00,344.44 282.25,344.44 282.50,344.45 282.75,344.44 283.00,344.42 283.25,344.38 283.50,344.28 283.75,344.11 284.00,343.81 284.25,343.33 284.50,342.59 284.75,341.51 285.00,340.01 285.25,338.06 285.50,335.65 285.75,332.85 286.00,329.83 286.25,326.81 286.50,324.09 286.75,321.94 287.00,320.63 287.25,320.32 287.50,321.06 287.75,322.74 288.00,325.16 288.25,328.06 288.50,331.12 288.75,334.09 289.00,336.76 289.25,339.00 289.50,340.78 289.75,342.12 290.00,343.07 290.25,343.71 290.50,344.12 290.75,344.37 291.00,344.52 291.25,344.61 291.50,344.65 291.75,344.68 292.00,344.69 292.25,344.70 292.50,344.71 292.75,344.71 293.00,344.71 293.25,344.72 293.50,344.72 293.75,344.72 294.00,344.73 294.25,344.73 294.50,344.73 294.75,344.74 295.00,344.74 295.25,344.74 295.50,344.74 295.75,344.75 296.00,344.75 296.25,344.75 296.50,344.75 296.75,344.75 297.00,344.76 297.25,344.76 297.50,344.76" fill="none" stroke="#858585" stroke-width="1.15"/>
<polyline points="305.20,343.29 305.45,343.28 305.70,343.28 305.95,343.27 306.20,343.26 306.45,343.25 306.70,343.24 306.95,343.23 307.20,343.22 307.45,343.21 307.70,343.18 307.95,343.10 308.20,342.89 308.45,342.37 308.70,341.28 308.95,339.45 309.20,337.01 309.45,334.56 309.70,332.92 309.95,332.53 310.20,333.04 310.45,333.48 310.70,333.12 310.95,332.15 311.20,331.52 311.45,332.15 311.71,334.18 311.96,336.91 312.21,339.44 312.46,341.23 312.71,342.23 312.96,342.67 313.21,342.81 313.46,342.78 313.71,342.58 313.96,342.04 314.21,340.77 314.46,338.21 314.71,333.78 314.96,327.22 315.21,319.15 315.46,311.20 315.71,305.64 315.96,304.34 316.21,307.75 316.46,314.68 316.71,322.91 316.96,330.38 317.21,335.92 317.46,339.37 317.71,341.21 317.96,342.04 318.21,342.36 318.46,342.46 318.71,342.47 318.96,342.46 319.21,342.44 319.46,342.42 319.71,342.40 319.96,342.38 320.21,342.36 320.46,342.33 320.71,342.31 320.96,342.29 321.21,342.27 321.46,342.25 321.71,342.23 321.96,342.20 322.21,342.18 322.46,342.16 322.71,342.14 322.96,342.12 323.21,342.09 323.46,342.07 323.71,342.04 323.96,342.00 324.22,341.94 324.47,341.85 324.72,341.70 324.97,341.43 325.22,340.99 325.47,340.27 325.72,339.15 325.97,337.47 326.22,335.06 326.47,331.77 326.72,327.48 326.97,322.18 327.22,315.99 327.47,309.19 327.72,302.23 327.97,295.66 328.22,290.12 328.47,286.19 328.72,284.31 328.97,284.70 329.22,287.30 329.47,291.83 329.72,297.76 329.97,304.51 330.22,311.45 330.47,318.05 330.72,323.92 330.97,328.85 331.22,332.75 331.47,335.70 331.72,337.80 331.97,339.24 332.22,340.18 332.47,340.76 332.72,341.11 332.97,341.30 333.22,341.41 333.47,341.46 333.72,341.48 333.97,341.49 334.22,341.50 334.47,341.50 334.72,341.50 334.97,341.49 335.22,341.48 335.47,341.47 335.72,341.43 335.97,341.37 336.22,341.27 336.47,341.12 336.72,340.90 336.98,340.61 337.23,340.27 337.48,339.90 337.73,339.55 337.98,339.26 338.23,339.09 338.48,339.07 338.73,339.20 338.98,339.46 339.23,339.81 339.48,340.20 339.73,340.57 339.98,340.90 340.23,341.16 340.48,341.35 340.73,341.48 340.98,341.56 341.23,341.59 341.48,341.58 341.73,341.52 341.98,341.41 342.23,341.23 342.48,340.98 342.73,340.67 342.98,340.31 343.23,339.96 343.48,339.65 343.73,339.44 343.98,339.37 344.23,339.46 344.48,339.68 344.73,340.02 344.98,340.40 345.23,340.80 345.48,341.15 345.73,341.45 345.98,341.68 346.23,341.84 346.48,341.96 346.73,342.03 346.98,342.08 347.23,342.12 347.48,342.15 347.73,342.18 347.98,342.20 348.23,342.22 348.48,342.24 348.73,342.26 348.98,342.29 349.23,342.31 349.48,342.33 349.74,342.35 349.99,342.37 350.24,342.39 350.49,342.42 350.74,342.44 350.99,342.46 351.24,342.48 351.49,342.50 351.74,342.52 351.99,342.54 352.24,342.56 352.49,342.58 352.74,342.60 352.99,342.62 353.24,342.64 353.49,342.66 353.74,342.68 353.99,342.69 354.24,342.70 354.49,342.69 354.74,342.65 354.99,342.56 355.24,342.38 355.49,342.05 355.74,341.50 355.99,340.61 356.24,339.25 356.49,337.28 356.74,334.56 356.99,330.99 357.24,326.55 357.49,321.32 357.74,315.54 357.99,309.57 358.24,303.89 358.49,299.03 358.74,295.51 358.99,293.72 359.24,293.87 359.49,295.95 359.74,299.72 359.99,304.75 360.24,310.53 360.49,316.53 360.74,322.28 360.99,327.44 361.24,331.79 361.49,335.26 361.74,337.90 361.99,339.80 362.25,341.11 362.50,341.97 362.75,342.52 363.00,342.84 363.25,343.04 363.50,343.15 363.75,343.21 364.00,343.24 364.25,343.26 364.50,343.28 364.75,343.29 365.00,343.30 365.25,343.31 365.50,343.31 365.75,343.32 366.00,343.33 366.25,343.33 366.50,343.34 366.75,343.35 367.00,343.35 367.25,343.36 367.50,343.36 367.75,343.37 368.00,343.38 368.25,343.38 368.50,343.39" fill="none" stroke="#858585" stroke-width="1.15"/>
<text x="36.40" y="333.10" font-size="8.1" font-weight="bold" text-anchor="start" fill="#111" stroke="#111" stroke-width="0.14" transform="rotate(-90 36.40 333.10)" >AcHbF</text>
<text x="49.20" y="329.60" font-size="8.1" font-weight="bold" text-anchor="start" fill="#111" stroke="#111" stroke-width="0.14" transform="rotate(-90 49.20 329.60)" >HbF</text>
<text x="78.30" y="302.10" font-size="8.1" font-weight="bold" text-anchor="start" fill="#111" stroke="#111" stroke-width="0.14" transform="rotate(-90 78.30 302.10)" >HbA</text>
<text x="105.40" y="332.60" font-size="8.1" font-weight="bold" text-anchor="start" fill="#111" stroke="#111" stroke-width="0.14" transform="rotate(-90 105.40 332.60)" >AcHbF</text>
<text x="117.60" y="328.60" font-size="8.1" font-weight="bold" text-anchor="start" fill="#111" stroke="#111" stroke-width="0.14" transform="rotate(-90 117.60 328.60)" >HbF</text>
<text x="146.60" y="302.10" font-size="8.1" font-weight="bold" text-anchor="start" fill="#111" stroke="#111" stroke-width="0.14" transform="rotate(-90 146.60 302.10)" >HbA</text>
<text x="175.40" y="327.60" font-size="8.1" font-weight="bold" text-anchor="start" fill="#111" stroke="#111" stroke-width="0.14" transform="rotate(-90 175.40 327.60)" >AcHbF</text>
<text x="187.90" y="319.60" font-size="8.1" font-weight="bold" text-anchor="start" fill="#111" stroke="#111" stroke-width="0.14" transform="rotate(-90 187.90 319.60)" >HbF</text>
<text x="217.80" y="302.90" font-size="8.1" font-weight="bold" text-anchor="start" fill="#111" stroke="#111" stroke-width="0.14" transform="rotate(-90 217.80 302.90)" >HbA</text>
<text x="248.40" y="321.10" font-size="8.1" font-weight="bold" text-anchor="start" fill="#111" stroke="#111" stroke-width="0.14" transform="rotate(-90 248.40 321.10)" >AcHbF</text>
<text x="261.40" y="310.10" font-size="8.1" font-weight="bold" text-anchor="start" fill="#111" stroke="#111" stroke-width="0.14" transform="rotate(-90 261.40 310.10)" >HbF</text>
<text x="290.60" y="317.40" font-size="8.1" font-weight="bold" text-anchor="start" fill="#111" stroke="#111" stroke-width="0.14" transform="rotate(-90 290.60 317.40)" >HbA</text>
<text x="319.30" y="300.40" font-size="8.1" font-weight="bold" text-anchor="start" fill="#111" stroke="#111" stroke-width="0.14" transform="rotate(-90 319.30 300.40)" >AcHbF</text>
<text x="332.20" y="282.30" font-size="8.1" font-weight="bold" text-anchor="start" fill="#111" stroke="#111" stroke-width="0.14" transform="rotate(-90 332.20 282.30)" >HbF</text>
<text x="361.90" y="290.10" font-size="8.1" font-weight="bold" text-anchor="start" fill="#111" stroke="#111" stroke-width="0.14" transform="rotate(-90 361.90 290.10)" >HbA</text>
<text x="53.90" y="361.20" font-size="8.1" font-weight="bold" text-anchor="middle" fill="#111" stroke="#111" stroke-width="0.14" >Mock</text>
<text x="123.70" y="361.20" font-size="8.1" font-weight="bold" text-anchor="middle" fill="#111" stroke="#111" stroke-width="0.14" >GFP</text>
<text x="194.30" y="361.20" font-size="8.1" font-weight="bold" text-anchor="middle" fill="#111" stroke="#111" stroke-width="0.14" >shBCL11A</text>
<text x="267.40" y="361.20" font-size="8.1" font-weight="bold" text-anchor="middle" fill="#111" stroke="#111" stroke-width="0.14" >GG1-VP64</text>
<text x="338.00" y="361.20" font-size="8.1" font-weight="bold" text-anchor="middle" fill="#111" stroke="#111" stroke-width="0.14" >V5m3-400</text>
<text x="392.10" y="265.00" font-size="12" font-weight="bold" text-anchor="start" fill="#111" stroke="#111" stroke-width="0.14" >E</text>
<line x1="432.00" y1="340.85" x2="517.00" y2="340.85" stroke="#c4c4c4" stroke-width="0.9" />
<line x1="432.00" y1="325.20" x2="517.00" y2="325.20" stroke="#c4c4c4" stroke-width="0.9" />
<line x1="432.00" y1="309.55" x2="517.00" y2="309.55" stroke="#c4c4c4" stroke-width="0.9" />
<line x1="432.00" y1="293.90" x2="517.00" y2="293.90" stroke="#c4c4c4" stroke-width="0.9" />
<line x1="432.00" y1="278.25" x2="517.00" y2="278.25" stroke="#c4c4c4" stroke-width="0.9" />
<line x1="432.00" y1="262.60" x2="517.00" y2="262.60" stroke="#c4c4c4" stroke-width="0.9" />
<rect x="436.40" y="328.96" width="9.00" height="27.54" fill="#4a78bd" stroke="#3a3a3a" stroke-width="0.7" />
<line x1="440.90" y1="323.95" x2="440.90" y2="333.96" stroke="#333" stroke-width="0.8" />
<line x1="439.50" y1="323.95" x2="442.30" y2="323.95" stroke="#333" stroke-width="0.8" />
<line x1="439.50" y1="333.96" x2="442.30" y2="333.96" stroke="#333" stroke-width="0.8" />
<rect x="453.80" y="325.51" width="9.00" height="30.99" fill="#4a78bd" stroke="#3a3a3a" stroke-width="0.7" />
<line x1="458.30" y1="319.57" x2="458.30" y2="331.46" stroke="#333" stroke-width="0.8" />
<line x1="456.90" y1="319.57" x2="459.70" y2="319.57" stroke="#333" stroke-width="0.8" />
<line x1="456.90" y1="331.46" x2="459.70" y2="331.46" stroke="#333" stroke-width="0.8" />
<rect x="471.00" y="309.08" width="9.00" height="47.42" fill="#f7923f" stroke="#3a3a3a" stroke-width="0.7" />
<line x1="475.50" y1="304.39" x2="475.50" y2="313.78" stroke="#333" stroke-width="0.8" />
<line x1="474.10" y1="304.39" x2="476.90" y2="304.39" stroke="#333" stroke-width="0.8" />
<line x1="474.10" y1="313.78" x2="476.90" y2="313.78" stroke="#333" stroke-width="0.8" />
<rect x="487.70" y="294.68" width="9.00" height="61.82" fill="#f7923f" stroke="#3a3a3a" stroke-width="0.7" />
<line x1="492.20" y1="285.29" x2="492.20" y2="304.07" stroke="#333" stroke-width="0.8" />
<line x1="490.80" y1="285.29" x2="493.60" y2="285.29" stroke="#333" stroke-width="0.8" />
<line x1="490.80" y1="304.07" x2="493.60" y2="304.07" stroke="#333" stroke-width="0.8" />
<rect x="504.60" y="287.17" width="9.00" height="69.33" fill="#f7923f" stroke="#3a3a3a" stroke-width="0.7" />
<line x1="509.10" y1="278.56" x2="509.10" y2="295.78" stroke="#333" stroke-width="0.8" />
<line x1="507.70" y1="278.56" x2="510.50" y2="278.56" stroke="#333" stroke-width="0.8" />
<line x1="507.70" y1="295.78" x2="510.50" y2="295.78" stroke="#333" stroke-width="0.8" />
<text x="492.20" y="285.50" font-size="10" font-weight="bold" text-anchor="middle" fill="#111" stroke="#111" stroke-width="0.14" >*</text>
<text x="509.10" y="279.30" font-size="10" font-weight="bold" text-anchor="middle" fill="#111" stroke="#111" stroke-width="0.14" >*</text>
<line x1="432.30" y1="261.80" x2="432.30" y2="356.50" stroke="#111" stroke-width="1.4" />
<line x1="431.60" y1="356.50" x2="518.00" y2="356.50" stroke="#111" stroke-width="1.3" />
<line x1="430.00" y1="356.50" x2="433.50" y2="356.50" stroke="#111" stroke-width="1" />
<text x="428.30" y="359.00" font-size="7.0" font-weight="bold" text-anchor="end" fill="#111" stroke="#111" stroke-width="0.14" >0</text>
<line x1="430.00" y1="340.85" x2="433.50" y2="340.85" stroke="#111" stroke-width="1" />
<text x="428.30" y="343.35" font-size="7.0" font-weight="bold" text-anchor="end" fill="#111" stroke="#111" stroke-width="0.14" >10</text>
<line x1="430.00" y1="325.20" x2="433.50" y2="325.20" stroke="#111" stroke-width="1" />
<text x="428.30" y="327.70" font-size="7.0" font-weight="bold" text-anchor="end" fill="#111" stroke="#111" stroke-width="0.14" >20</text>
<line x1="430.00" y1="309.55" x2="433.50" y2="309.55" stroke="#111" stroke-width="1" />
<text x="428.30" y="312.05" font-size="7.0" font-weight="bold" text-anchor="end" fill="#111" stroke="#111" stroke-width="0.14" >30</text>
<line x1="430.00" y1="293.90" x2="433.50" y2="293.90" stroke="#111" stroke-width="1" />
<text x="428.30" y="296.40" font-size="7.0" font-weight="bold" text-anchor="end" fill="#111" stroke="#111" stroke-width="0.14" >40</text>
<line x1="430.00" y1="278.25" x2="433.50" y2="278.25" stroke="#111" stroke-width="1" />
<text x="428.30" y="280.75" font-size="7.0" font-weight="bold" text-anchor="end" fill="#111" stroke="#111" stroke-width="0.14" >50</text>
<line x1="430.00" y1="262.60" x2="433.50" y2="262.60" stroke="#111" stroke-width="1" />
<text x="428.30" y="265.10" font-size="7.0" font-weight="bold" text-anchor="end" fill="#111" stroke="#111" stroke-width="0.14" >60</text>
<line x1="430.60" y1="348.68" x2="432.30" y2="348.68" stroke="#111" stroke-width="0.8" />
<line x1="430.60" y1="333.02" x2="432.30" y2="333.02" stroke="#111" stroke-width="0.8" />
<line x1="430.60" y1="317.38" x2="432.30" y2="317.38" stroke="#111" stroke-width="0.8" />
<line x1="430.60" y1="301.73" x2="432.30" y2="301.73" stroke="#111" stroke-width="0.8" />
<line x1="430.60" y1="286.07" x2="432.30" y2="286.07" stroke="#111" stroke-width="0.8" />
<line x1="430.60" y1="270.43" x2="432.30" y2="270.43" stroke="#111" stroke-width="0.8" />
<line x1="432.00" y1="356.50" x2="432.00" y2="358.50" stroke="#111" stroke-width="1" />
<line x1="449.00" y1="356.50" x2="449.00" y2="358.50" stroke="#111" stroke-width="1" />
<line x1="466.00" y1="356.50" x2="466.00" y2="358.50" stroke="#111" stroke-width="1" />
<line x1="483.00" y1="356.50" x2="483.00" y2="358.50" stroke="#111" stroke-width="1" />
<line x1="500.00" y1="356.50" x2="500.00" y2="358.50" stroke="#111" stroke-width="1" />
<line x1="517.00" y1="356.50" x2="517.00" y2="358.50" stroke="#111" stroke-width="1" />
<text x="406.00" y="308.80" font-size="6.4" font-weight="bold" text-anchor="middle" fill="#111" stroke="#111" stroke-width="0.14" transform="rotate(-90 406.00 308.80)" >(%) Normal Cellular</text>
<text x="413.60" y="309.00" font-size="6.4" font-weight="bold" text-anchor="middle" fill="#111" stroke="#111" stroke-width="0.14" transform="rotate(-90 413.60 309.00)" >Hb Content</text>
<text x="444.10" y="362.30" font-size="7.4" font-weight="bold" text-anchor="end" fill="#111" stroke="#111" stroke-width="0.14" transform="rotate(-45 444.10 362.30)" >Mock</text>
<text x="461.50" y="362.30" font-size="7.4" font-weight="bold" text-anchor="end" fill="#111" stroke="#111" stroke-width="0.14" transform="rotate(-45 461.50 362.30)" >GFP</text>
<text x="478.70" y="362.30" font-size="7.4" font-weight="bold" text-anchor="end" fill="#111" stroke="#111" stroke-width="0.14" transform="rotate(-45 478.70 362.30)" >shBCL11A</text>
<text x="495.40" y="362.30" font-size="7.4" font-weight="bold" text-anchor="end" fill="#111" stroke="#111" stroke-width="0.14" transform="rotate(-45 495.40 362.30)" >GG1-VP64</text>
<text x="512.30" y="362.30" font-size="7.4" font-weight="bold" text-anchor="end" fill="#111" stroke="#111" stroke-width="0.14" transform="rotate(-45 512.30 362.30)" >V5m3-400</text>
</svg>
</body></html>
